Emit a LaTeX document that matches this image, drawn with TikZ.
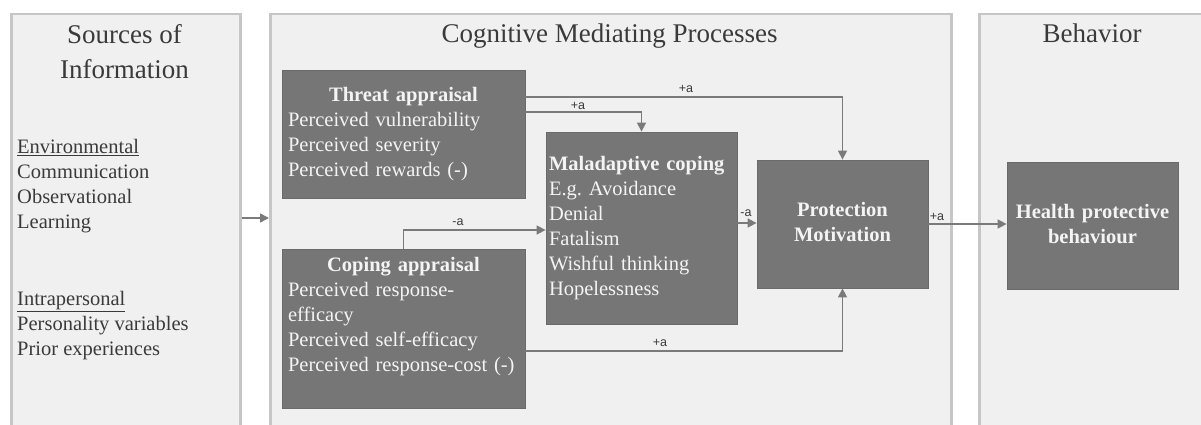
\documentclass[tikz,border=0pt]{standalone}
\usepackage{fontspec}
\setmainfont{Liberation Serif}
\newfontfamily\edgefont{Liberation Sans}
\usetikzlibrary{arrows.meta}

\definecolor{panelfill}{HTML}{F0F0F0}
\definecolor{paneledge}{HTML}{C6C6C6}
\definecolor{boxfill}{HTML}{767676}
\definecolor{boxedge}{HTML}{6A6A6A}
\definecolor{boxtext}{HTML}{F4F4F4}
\definecolor{linkgray}{HTML}{7A7A7A}
\definecolor{inktext}{HTML}{3A3A3A}

\tikzset{
  panel/.style={draw=paneledge, line width=2.5pt, fill=panelfill, anchor=north west, inner sep=0pt},
  heading/.style={font=\fontsize{27}{35}\selectfont, text=inktext, align=center, inner sep=0pt},
  srctext/.style={font=\fontsize{20.5}{25}\selectfont, text=inktext, align=left, inner sep=0pt, anchor=north west},
  procbox/.style={fill=boxfill, draw=boxedge, line width=0.8pt, text=boxtext,
    font=\fontsize{20.5}{25}\selectfont, align=left, inner xsep=6pt, inner ysep=0pt},
  link/.style={draw=linkgray, line width=1.5pt, -{Triangle[length=9pt,width=9pt]}},
  sign/.style={font=\edgefont\fontsize{12.5}{14}\selectfont, text=inktext, inner sep=0pt}
}

\begin{document}
\begin{tikzpicture}[x=1pt,y=-1pt]
  \useasboundingbox (0,0) rectangle (1201,425);
  \fill[white] (0,0) rectangle (1201,425);
  \clip (0,0) rectangle (1201,425);

  % three column panels
  \node[panel, minimum width=229pt, minimum height=440pt] (srcpanel) at (10,13) {};
  \node[panel, minimum width=681pt, minimum height=440pt] (midpanel) at (269,13) {};
  \node[panel, minimum width=240pt, minimum height=440pt] (behpanel) at (978,13) {};

  % panel headings
  \node[heading, anchor=north] (srchead) at (124.5,18.5) {\strut Sources of\\Information};
  \node[heading, anchor=base] (midhead) at (609.5,43) {Cognitive Mediating Processes};
  \node[heading, anchor=base] (behhead) at (1092,43) {Behavior};

  % sources of information
  \node[srctext] (envsrc) at (17,135.5)
    {\strut\underline{Environmental}\\Communication\\Observational\\Learning};
  \node[srctext] (intrasrc) at (17,287.5)
    {\strut\underline{Intrapersonal}\\Personality variables\\Prior experiences};

  % appraisal and coping boxes
  \node[procbox, text width=231pt, minimum height=128pt] (threat) at (403.5,134)
    {\makebox[\linewidth]{\strut\bfseries Threat appraisal}\\
     Perceived vulnerability\\Perceived severity\\Perceived rewards (-)\strut};
  \node[procbox, text width=231pt, minimum height=159pt] (coping) at (403.5,328.5)
    {\makebox[\linewidth]{\strut\bfseries Coping appraisal}\\
     Perceived response-\\efficacy\\Perceived self-efficacy\\
     Perceived response-cost (-)\\\strut};
  \node[procbox, text width=185pt, inner xsep=3pt, minimum height=192pt] (maladapt) at (641.5,228)
    {\strut\textbf{Maladaptive coping}\\E.g.\ Avoidance\\Denial\\Fatalism\\
     Wishful thinking\\Hopelessness\strut};
  \node[procbox, align=center, text width=159pt, minimum height=128pt] (protect) at (842.5,224)
    {\bfseries\strut Protection\\Motivation\strut};
  \node[procbox, align=center, text width=159pt, minimum height=127pt] (health) at (1092.5,225.5)
    {\bfseries\strut Health protective\\behaviour\strut};

  % routing heights of the connectors
  \coordinate (yIn) at (0,218);
  \coordinate (yTP) at (0,97);
  \coordinate (yTM) at (0,112);
  \coordinate (yCM) at (0,230);
  \coordinate (yMP) at (0,223);
  \coordinate (yCP) at (0,351);

  % connectors
  \draw[link] (srcpanel.east |- yIn) -- (midpanel.west |- yIn);
  \draw[link] (threat.east |- yTP) -| (protect.north);
  \draw[link] (threat.east |- yTM) -| (maladapt.north);
  \draw[link] (coping.north) |- (maladapt.west |- yCM);
  \draw[link] (maladapt.east |- yMP) -- (protect.west |- yMP);
  \draw[link] (coping.east |- yCP) -| (protect.south);
  \draw[link] (protect.east) -- (health.west |- protect.east);

  % connector signs
  \node[sign] (sTP) at (686,89) {+a};
  \node[sign] (sTM) at (578,106) {+a};
  \node[sign] (sCM) at (458,222) {-a};
  \node[sign] (sMP) at (746,213) {-a};
  \node[sign] (sCP) at (660,343) {+a};
  \node[sign] (sPH) at (937,217) {+a};
\end{tikzpicture}
\end{document}
